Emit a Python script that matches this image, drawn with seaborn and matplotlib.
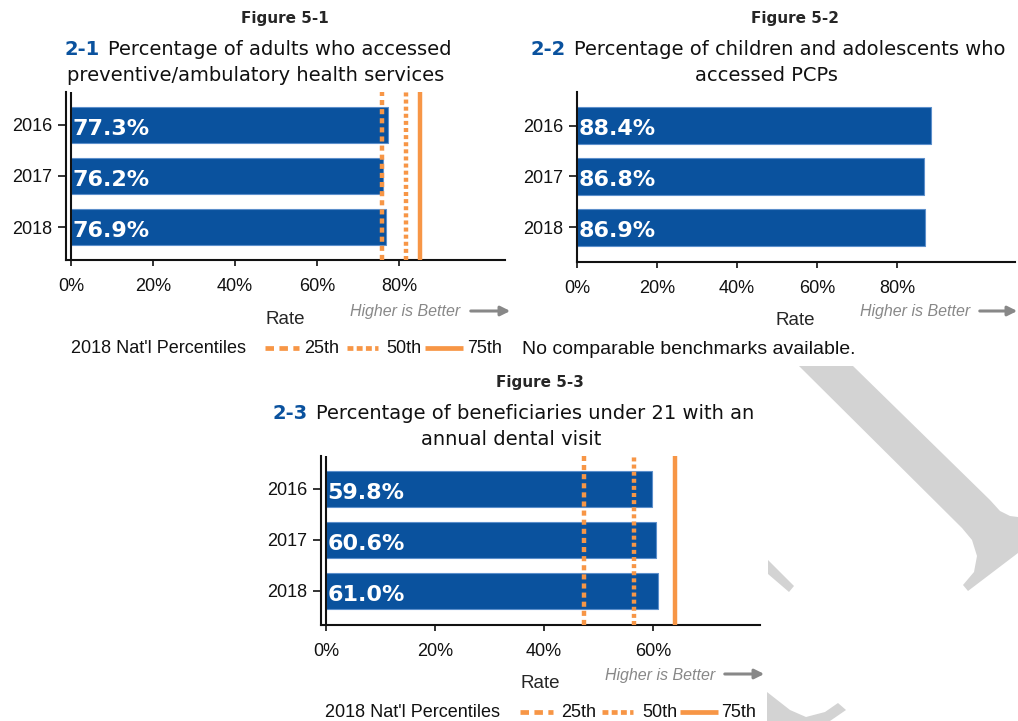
import numpy as np
import pandas as pd
import matplotlib
matplotlib.use('Agg')
import matplotlib.pyplot as plt
import seaborn as sns
from matplotlib.lines import Line2D
from matplotlib.patches import FancyArrowPatch, Polygon

# Data
years = ['2016', '2017', '2018']
adult_rates = [77.3, 76.2, 76.9]
child_pcp_rates = [88.4, 86.8, 86.9]
dental_rates = [59.8, 60.6, 61.0]
percentile_labels = ['25th', '50th', '75th']
adult_bench = [75.9, 81.6, 85.1]
dental_bench = [47.3, 56.5, 64.0]
ticks_1 = [0, 20, 40, 60, 80]
ticks_3 = [0, 20, 40, 60]

BLUE = '#0A529E'
ORANGE = '#F79646'
GRAY = '#888888'
W, H = 1018, 721

sns.set_theme(style='white')
plt.rcParams['font.family'] = ['Liberation Sans', 'DejaVu Sans']

fig = plt.figure(figsize=(W / 100, H / 100), dpi=100)

# dash patterns (in linewidth units) for 25th / 50th / 75th
styles = [(0, (1.15, 0.9)), (0, (0.9, 0.7)), '-']
leg_styles = [(0, (1.8, 1.15)), (0, (1.25, 0.7)), '-']


def fx(x):
    return x / W


def fy(y):
    return 1 - y / H


def axes_px(l, t, r, b):
    return fig.add_axes([fx(l), fy(b), (r - l) / W, (b - t) / H])


def ftext(x, y, s, **kw):
    fig.text(fx(x), fy(y), s, **kw)


def panel(ax, rates, bench, xlim, ylim, ticks, zero_line):
    sns.barplot(x=rates, y=years, orient='h', color=BLUE, saturation=1,
                width=0.72, edgecolor='#5C8FCB', linewidth=0.8, ax=ax)
    if bench is not None:
        for v, ls in zip(bench, styles):
            ax.axvline(v, color=ORANGE, lw=3.2, linestyle=ls, zorder=3)
    for i, v in enumerate(rates):
        ax.text(0.3, i + 0.19, f'{v:.1f}%', color='white', fontsize=16,
                fontweight='bold', family='DejaVu Sans', ha='left', va='baseline', zorder=4)
    if zero_line:
        ax.axvline(0, color='#111111', lw=1.5, zorder=5)
    ax.set_xlim(*xlim)
    ax.set_ylim(*ylim)
    ax.set_xticks(ticks)
    ax.set_xticklabels([f'{t}%' for t in ticks])
    ax.set_xlabel('')
    ax.set_ylabel('')
    for s in ['top', 'right']:
        ax.spines[s].set_visible(False)
    for s in ['left', 'bottom']:
        ax.spines[s].set_color('#111111')
        ax.spines[s].set_linewidth(1.5)
    ax.tick_params(axis='x', bottom=True, length=4, width=1.2, pad=9, labelsize=13, colors='#111111')
    ax.tick_params(axis='y', left=True, length=6, width=1.2, pad=4, labelsize=13, colors='#111111')


def title(x_num, x_rest, y1, num, rest, x2, y2, line2):
    ftext(x_num, y1, num, color=BLUE, fontsize=14, fontweight='bold', family='DejaVu Sans',
          ha='left', va='baseline')
    ftext(x_rest, y1, rest, color='#111111', fontsize=14, family='DejaVu Sans',
          ha='left', va='baseline')
    ftext(x2, y2, line2, color='#111111', fontsize=14, family='DejaVu Sans',
          ha='center', va='baseline')


def higher_better(x, y, ax1, ax2, ay):
    ftext(x, y, 'Higher is Better', color=GRAY, fontsize=11.5, style='italic', ha='left', va='baseline')
    fig.add_artist(FancyArrowPatch((fx(ax1), fy(ay)), (fx(ax2), fy(ay)), transform=fig.transFigure,
                                   arrowstyle='-|>', mutation_scale=14, color=GRAY, lw=2.2))


def legend(x, y, seg):
    ftext(x, y + 5, "2018 Nat'l Percentiles", color='#111111', fontsize=13, ha='left', va='baseline')
    for (x1, x2, xt), ls, lab in zip(seg, leg_styles, percentile_labels):
        fig.add_artist(Line2D([fx(x1), fx(x2)], [fy(y), fy(y)], color=ORANGE, lw=3.4, linestyle=ls,
                              solid_capstyle='butt', dash_capstyle='butt'))
        ftext(xt, y + 5, lab, color='#111111', fontsize=13, ha='left', va='baseline')


# Figure 5-1
ftext(285, 23, 'Figure 5-1', fontsize=11, fontweight='bold', family='DejaVu Sans', ha='center', va='baseline')
title(65, 108, 55, '2-1', 'Percentage of adults who accessed', 256, 81,
      'preventive/ambulatory health services')
ax1 = axes_px(66, 92, 505, 260)
panel(ax1, adult_rates, adult_bench, ((66 - 71) / 4.1, (505 - 71) / 4.1), (2.647, -0.647), ticks_1, True)
ftext(285, 324, 'Rate', fontsize=13.5, ha='center', va='baseline')
higher_better(350, 316, 468, 513, 311)
legend(71, 348, [(265, 299, 304), (347, 378, 386), (425, 463, 467)])

# Figure 5-2
ftext(795, 23, 'Figure 5-2', fontsize=11, fontweight='bold', family='DejaVu Sans', ha='center', va='baseline')
title(531, 574, 55, '2-2', 'Percentage of children and adolescents who', 766, 81, 'accessed PCPs')
ax2 = axes_px(577, 92, 1015, 262)
panel(ax2, child_pcp_rates, None, (0, (1015 - 577) / 4.0), (2.68, -0.66), ticks_1, False)
ftext(795, 325, 'Rate', fontsize=13.5, ha='center', va='baseline')
higher_better(860, 316, 977, 1020, 311)
ftext(522, 354, 'No comparable benchmarks available.', color='#111111', fontsize=14, ha='left', va='baseline')

# Figure 5-3
ftext(540, 387, 'Figure 5-3', fontsize=11, fontweight='bold', family='DejaVu Sans', ha='center', va='baseline')
title(272, 316, 419, '2-3', 'Percentage of beneficiaries under 21 with an', 511, 445,
      'annual dental visit')
ax3 = axes_px(321, 456, 760, 625)
panel(ax3, dental_rates, dental_bench, ((321 - 326) / 5.45, (760 - 326) / 5.45), (2.667, -0.647), ticks_3, True)
ftext(540, 688, 'Rate', fontsize=13.5, ha='center', va='baseline')
higher_better(605, 680, 722, 767, 674)
legend(325, 712, [(520, 553, 561), (602, 633, 642), (680, 718, 721)])

# grey watermark pieces in the lower right
wm = '#D3D3D3'
for pts in [
    [(799, 366), (853, 366), (990, 500), (1000, 511), (1010, 516), (1018, 517), (1018, 553),
     (968, 591), (963, 585), (974, 572), (977, 556), (972, 540), (962, 528)],
    [(768, 560), (794, 586), (789, 592), (768, 574)],
    [(767, 692), (790, 710), (806, 717), (825, 712), (838, 703), (846, 710), (830, 721), (767, 721)],
]:
    fig.add_artist(Polygon([(fx(x), fy(y)) for x, y in pts], closed=True, transform=fig.transFigure,
                           facecolor=wm, edgecolor='none', zorder=-1))

fig.savefig('out.png', dpi=100)
